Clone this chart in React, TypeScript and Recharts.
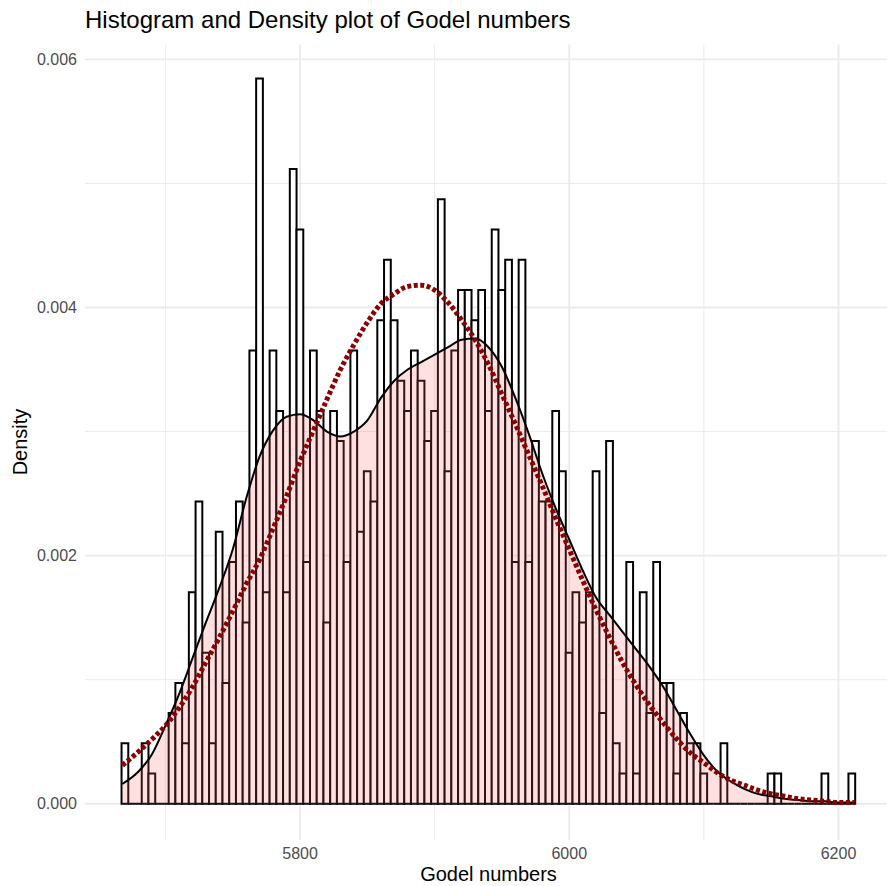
import { ComposedChart, Bar, Area, Line, XAxis, YAxis, CartesianGrid } from 'recharts'

// histogram: bin centres (binwidth 5) and counts
const BIN_WIDTH = 5
const binCenters = [
  5670, 5675, 5680, 5685, 5690, 5695, 5700, 5705, 5710, 5715,
  5720, 5725, 5730, 5735, 5740, 5745, 5750, 5755, 5760, 5765,
  5770, 5775, 5780, 5785, 5790, 5795, 5800, 5805, 5810, 5815,
  5820, 5825, 5830, 5835, 5840, 5845, 5850, 5855, 5860, 5865,
  5870, 5875, 5880, 5885, 5890, 5895, 5900, 5905, 5910, 5915,
  5920, 5925, 5930, 5935, 5940, 5945, 5950, 5955, 5960, 5965,
  5970, 5975, 5980, 5985, 5990, 5995, 6000, 6005, 6010, 6015,
  6020, 6025, 6030, 6035, 6040, 6045, 6050, 6055, 6060, 6065,
  6070, 6075, 6080, 6085, 6090, 6095, 6100, 6105, 6110, 6115,
  6120, 6125, 6130, 6135, 6140, 6145, 6150, 6155, 6160, 6165,
  6170, 6175, 6180, 6185, 6190, 6195, 6200, 6205, 6210,
]
const binCounts = [
  2, 0, 0, 2, 1, 0, 0, 3, 4, 2,
  7, 10, 5, 2, 9, 4, 8, 10, 6, 15,
  24, 7, 15, 13, 7, 21, 19, 8, 15, 13,
  6, 13, 12, 8, 15, 9, 11, 10, 16, 18,
  16, 14, 13, 15, 14, 12, 13, 20, 11, 15,
  17, 17, 16, 17, 13, 19, 17, 18, 8, 18,
  8, 12, 10, 10, 13, 11, 5, 7, 6, 7,
  11, 3, 12, 2, 1, 8, 1, 7, 3, 8,
  4, 4, 1, 3, 2, 2, 1, 0, 0, 2,
  0, 0, 0, 0, 0, 0, 1, 1, 0, 0,
  0, 0, 0, 0, 1, 0, 0, 0, 1,
]

// the two curves, sampled by eye
const curveX = [
  5668, 5680, 5690, 5700, 5710, 5720, 5730, 5740, 5750, 5760,
  5770, 5780, 5790, 5800, 5810, 5820, 5830, 5840, 5850, 5860,
  5870, 5880, 5890, 5900, 5910, 5920, 5930, 5940, 5950, 5960,
  5970, 5980, 5990, 6000, 6010, 6020, 6030, 6040, 6050, 6060,
  6070, 6080, 6090, 6100, 6110, 6120, 6130, 6140, 6150, 6160,
  6170, 6180, 6190, 6200, 6212,
]
const kdeDensity = [
  0.00016, 0.00026, 0.0004, 0.00063, 0.00088, 0.00117, 0.00146, 0.00174, 0.00205, 0.00246,
  0.0028, 0.00301, 0.00312, 0.00314, 0.00309, 0.003, 0.00296, 0.003, 0.00309, 0.00327,
  0.00341, 0.0035, 0.00356, 0.00362, 0.00368, 0.00374, 0.00375, 0.00368, 0.00352, 0.00327,
  0.00298, 0.00266, 0.00238, 0.00213, 0.00188, 0.00166, 0.00152, 0.00138, 0.00124, 0.0011,
  0.00094, 0.00075, 0.00056, 0.00039, 0.00026, 0.00018, 0.00012, 0.00008, 0.00006, 0.00004,
  0.00003, 0.00002, 0.00002, 0.00001, 0.00001,
]
const normalDensity = [
  0.00031, 0.00042, 0.00052, 0.00063, 0.00077, 0.00094, 0.00114, 0.00134, 0.00155, 0.00177,
  0.00197, 0.00222, 0.00248, 0.00276, 0.00301, 0.00326, 0.0035, 0.0037, 0.00388, 0.00403,
  0.00411, 0.00417, 0.00418, 0.00414, 0.00404, 0.0039, 0.00374, 0.00354, 0.0033, 0.00306,
  0.00281, 0.00256, 0.0023, 0.00205, 0.0018, 0.00156, 0.00134, 0.00113, 0.00095, 0.00079,
  0.00065, 0.00052, 0.00041, 0.00033, 0.00025, 0.00019, 0.00015, 0.00011, 0.00008, 0.00006,
  0.00004, 0.00003, 0.00002, 0.00001, 0.00001,
]

const xTicks = [5800, 6000, 6200]
const xMinor = [5700, 5900, 6100]
const yTicks = [0, 0.002, 0.004, 0.006]
const yMinor = [0.001, 0.003, 0.005]

const TOTAL = binCounts.reduce((s, c) => s + c, 0)
const histData = binCenters.map((x, i) => ({ x, density: binCounts[i] / (TOTAL * BIN_WIDTH) }))
const kdeData = curveX.map((x, i) => ({ x, y: kdeDensity[i] }))
const normalData = curveX.map((x, i) => ({ x, y: normalDensity[i] }))

const FONT = '"Liberation Sans", Arial, Helvetica, sans-serif'
const W = 892
const H = 886
const MARGIN = { top: 44.5, right: 0, bottom: 0, left: 15 }
const Y_AXIS_W = 70
const X_AXIS_H = 46
const X_DOMAIN: [number, number] = [5640.25, 6239.75]
const Y_DOMAIN: [number, number] = [-0.000292, 0.00612]
const plotW = W - MARGIN.left - MARGIN.right - Y_AXIS_W
const barPx = (plotW / (X_DOMAIN[1] - X_DOMAIN[0])) * BIN_WIDTH

// outlined rect one bin wide, centred where recharts puts the bar;
// empty bins still draw their bottom edge (the base line)
function HistBar(props: any) {
  const { x, y, width, height } = props
  if (x == null || y == null || width == null) return null
  const h = Math.max(0, height || 0)
  const cx = x + width / 2
  const x0 = cx - barPx / 2
  const x1 = cx + barPx / 2
  return (
    <path
      d={`M${x0},${y + h}V${y}H${x1}V${y + h}Z`}
      fill="#ffffff"
      stroke="#000000"
      strokeWidth={2}
    />
  )
}

export default function App() {
  const areaZ: any = { zIndex: 350 }
  return (
    <div style={{ position: 'absolute', left: 0, top: 0, width: 887, height: 886, overflow: 'hidden', background: '#fff', fontFamily: FONT }}>
      <ComposedChart width={W} height={H} data={histData} margin={MARGIN} barGap={0} barCategoryGap={0}>
        <CartesianGrid horizontalValues={yMinor} verticalValues={xMinor} stroke="#EBEBEB" strokeWidth={1} />
        <CartesianGrid horizontalValues={yTicks} verticalValues={xTicks} stroke="#EBEBEB" strokeWidth={1.9} />
        <XAxis
          dataKey="x"
          type="number"
          domain={X_DOMAIN}
          allowDataOverflow
          ticks={xTicks}
          height={X_AXIS_H}
          axisLine={false}
          tickLine={false}
          tickSize={0}
          tickMargin={8}
          tick={{ fontSize: 16, fill: '#4D4D4D', fontFamily: FONT }}
        />
        <YAxis
          type="number"
          domain={Y_DOMAIN}
          allowDataOverflow
          ticks={yTicks}
          width={Y_AXIS_W}
          axisLine={false}
          tickLine={false}
          tickSize={0}
          tickMargin={8}
          tickFormatter={(v: number) => v.toFixed(3)}
          tick={{ fontSize: 16, fill: '#4D4D4D', fontFamily: FONT }}
        />
        <Bar dataKey="density" barSize={barPx} shape={HistBar} isAnimationActive={false} />
        <Area
          {...areaZ}
          data={kdeData}
          dataKey="y"
          type="monotone"
          baseValue={0}
          fill="#FF6666"
          fillOpacity={0.2}
          stroke="#000000"
          strokeWidth={2}
          dot={false}
          activeDot={false}
          isAnimationActive={false}
        />
        <Line
          data={normalData}
          dataKey="y"
          type="monotone"
          stroke="#8B0000"
          strokeWidth={5}
          strokeDasharray="4 2.5"
          dot={false}
          activeDot={false}
          isAnimationActive={false}
        />
      </ComposedChart>
      <svg width={887} height={886} style={{ position: 'absolute', left: 0, top: 0, pointerEvents: 'none' }}>
        <text x={85} y={28} fontSize={24} fill="#000" fontFamily={FONT}>
          Histogram and Density plot of Godel numbers
        </text>
        <text x={488.5} y={881} fontSize={20} fill="#000" textAnchor="middle" fontFamily={FONT}>
          Godel numbers
        </text>
        <text transform="translate(27,442) rotate(-90)" fontSize={20} fill="#000" textAnchor="middle" fontFamily={FONT}>
          Density
        </text>
      </svg>
    </div>
  )
}
